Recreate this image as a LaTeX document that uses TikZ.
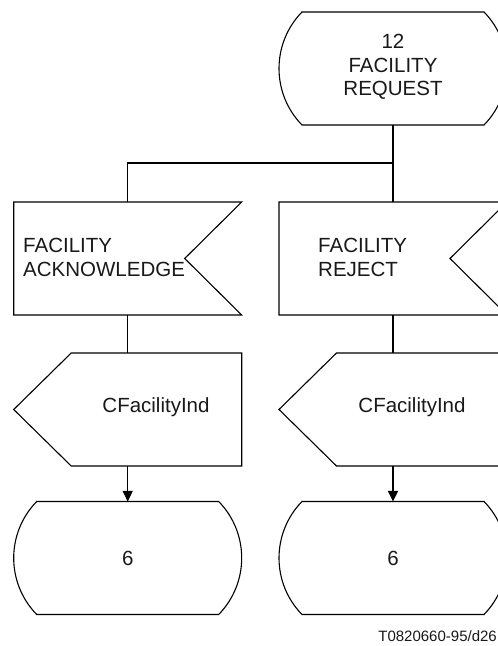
\documentclass[tikz,border=0pt]{standalone}
\usepackage{fontspec}
\setmainfont{Liberation Sans}
\usetikzlibrary{arrows.meta}
\tikzset{
  holder/.style={draw=none, inner sep=0pt, outer sep=0pt, minimum width=228pt, minimum height=113pt},
  outline/.style={draw=black, line width=1.1pt, line join=miter},
  conn/.style={draw=black, line width=1.1pt},
  arr/.style={conn, -{Triangle[length=10.5pt,width=10pt]}},
  lbl/.style={inner sep=0pt, font=\fontsize{20.5}{23.5}\selectfont, text=black!90},
  foot/.style={inner sep=0pt, font=\fontsize{15}{18}\selectfont, text=black!90}
}
\begin{document}
\begin{tikzpicture}[x=1pt,y=1pt]
\clip (0,0) rectangle (498,646);
\fill[white] (0,0) rectangle (498,646);
% shape holders
\node[holder] (req) at (393,577.5) {};
\node[holder] (ack) at (127.7,387.5) {};
\node[holder] (rej) at (393,387.5) {};
\node[holder] (ind1) at (127.7,236.5) {};
\node[holder] (ind2) at (393,236.5) {};
\node[holder] (term1) at (127.7,88) {};
\node[holder] (term2) at (393,88) {};
% state symbol (top)
\draw[outline] ([xshift=23pt]req.north west) -- ([xshift=-23pt]req.north east)
  arc[start angle=44.3,end angle=-44.3,radius=80.9pt]
  -- ([xshift=23pt]req.south west)
  arc[start angle=224.3,end angle=135.7,radius=80.9pt] -- cycle;
% input signals
\draw[outline] (ack.north west) -- (ack.north east) -- ([xshift=-57pt]ack.east) -- (ack.south east) -- (ack.south west) -- cycle;
\draw[outline] (rej.north west) -- (rej.north east) -- ([xshift=-57pt]rej.east) -- (rej.south east) -- (rej.south west) -- cycle;
% output signals
\draw[outline] ([xshift=57.5pt]ind1.north west) -- (ind1.north east) -- (ind1.south east) -- ([xshift=57.5pt]ind1.south west) -- (ind1.west) -- cycle;
\draw[outline] ([xshift=57.5pt]ind2.north west) -- (ind2.north east) -- (ind2.south east) -- ([xshift=57.5pt]ind2.south west) -- (ind2.west) -- cycle;
% terminal connectors
\draw[outline] ([xshift=23pt]term1.north west) -- ([xshift=-23pt]term1.north east)
  arc[start angle=44.3,end angle=-44.3,radius=80.9pt]
  -- ([xshift=23pt]term1.south west)
  arc[start angle=224.3,end angle=135.7,radius=80.9pt] -- cycle;
\draw[outline] ([xshift=23pt]term2.north west) -- ([xshift=-23pt]term2.north east)
  arc[start angle=44.3,end angle=-44.3,radius=80.9pt]
  -- ([xshift=23pt]term2.south west)
  arc[start angle=224.3,end angle=135.7,radius=80.9pt] -- cycle;
% texts
\node[lbl, align=center] (reqt) at (393,579) {12\\FACILITY\\REQUEST};
\node[lbl, align=left, anchor=west] (ackt) at (23,388.5) {FACILITY\\ACKNOWLEDGE};
\node[lbl, align=left, anchor=west] (rejt) at (318,388.5) {FACILITY\\REJECT};
\node[lbl] (ind1t) at (156,239) {CFacilityInd};
\node[lbl] (ind2t) at (412,239) {CFacilityInd};
\node[lbl] (term1t) at (127.7,88) {6};
\node[lbl] (term2t) at (393,88) {6};
\node[foot, anchor=east] (ref) at (497,10) {T0820660-95/d26};
% connectors
\coordinate (junc) at (393,483);
\draw[conn] (req.south) -- (rej.north);
\draw[conn] (junc) -| (ack.north);
\draw[conn] (ack.south) -- (ind1.north);
\draw[conn] (rej.south) -- (ind2.north);
\draw[arr] (ind1.south) -- (term1.north);
\draw[arr] (ind2.south) -- (term2.north);
\end{tikzpicture}
\end{document}
